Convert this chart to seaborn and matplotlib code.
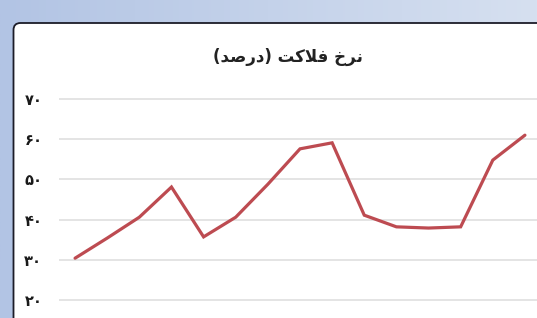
import numpy as np
import pandas as pd
import matplotlib
matplotlib.use("Agg")
import matplotlib.pyplot as plt
from matplotlib.colors import LinearSegmentedColormap
from matplotlib.patches import FancyBboxPatch
import seaborn as sns

# ---- data ----
title = "نرخ فلاکت (درصد)"
points = list(range(15))
misery_rate = [30.4, 35.4, 40.6, 48.1, 35.7, 40.6, 48.8, 57.6, 59.1, 41.1,
               38.2, 37.9, 38.2, 54.8, 61.0]
ytick_values = [20, 30, 40, 50, 60, 70]
ytick_labels = ["۲۰", "۳۰", "۴۰", "۵۰", "۶۰", "۷۰"]

# ---- minimal Arabic-script shaping (matplotlib has no shaping / RTL) ----
FORMS = {  # isolated, final, initial, medial
    'ن': ('\uFEE5', '\uFEE6', '\uFEE7', '\uFEE8'),
    'ر': ('\uFEAD', '\uFEAE', None, None),
    'خ': ('\uFEA5', '\uFEA6', '\uFEA7', '\uFEA8'),
    'ف': ('\uFED1', '\uFED2', '\uFED3', '\uFED4'),
    'ل': ('\uFEDD', '\uFEDE', '\uFEDF', '\uFEE0'),
    'ا': ('\uFE8D', '\uFE8E', None, None),
    'ک': ('\uFB8E', '\uFB8F', '\uFB90', '\uFB91'),
    'ت': ('\uFE95', '\uFE96', '\uFE97', '\uFE98'),
    'د': ('\uFEA9', '\uFEAA', None, None),
    'ص': ('\uFEB9', '\uFEBA', '\uFEBB', '\uFEBC'),
    'لا': ('\uFEFB', '\uFEFC', None, None),
}


def shape(text):
    toks = []
    i = 0
    while i < len(text):
        if text[i] == 'ل' and i + 1 < len(text) and text[i + 1] == 'ا':
            toks.append('لا')
            i += 2
        else:
            toks.append(text[i])
            i += 1

    def joins_left(t):
        return t is not None and t in FORMS and FORMS[t][2] is not None

    def is_ar(t):
        return t is not None and t in FORMS

    out = []
    for k, t in enumerate(toks):
        if t not in FORMS:
            out.append(t)
            continue
        f = FORMS[t]
        prev = toks[k - 1] if k > 0 else None
        nxt = toks[k + 1] if k + 1 < len(toks) else None
        r = joins_left(prev)
        l = f[2] is not None and is_ar(nxt)
        if r and l:
            out.append(f[3])
        elif l:
            out.append(f[2])
        elif r:
            out.append(f[1])
        else:
            out.append(f[0])
    mirror = {'(': ')', ')': '('}
    return ''.join(mirror.get(c, c) for c in reversed(out))


# ---- figure ----
sns.set_style("white")
plt.rcParams['font.family'] = ['DejaVu Sans']

W, H = 537, 318
fig = plt.figure(figsize=(W / 100, H / 100), dpi=100)

bg = fig.add_axes([0, 0, 1, 1], zorder=0)
cmap = LinearSegmentedColormap.from_list('bg', ['#b2c4e4', '#d6e0f0'])
grad = np.linspace(0, 1, 256).reshape(1, -1)
bg.imshow(grad, aspect='auto', cmap=cmap, extent=[0, W, H, 0])
bg.set_xlim(0, W)
bg.set_ylim(H, 0)
bg.axis('off')
panel = FancyBboxPatch((13.5, 23), 700, 500,
                       boxstyle="round,pad=0,rounding_size=7",
                       facecolor='white', edgecolor='#1c1c28', linewidth=1.3)
bg.add_patch(panel)

df = pd.DataFrame({"point": points, "rate": misery_rate})

px_per_unit = (300 - 99) / 50.0
ax = fig.add_axes([59 / W, 0, 482 / W, (H - 90) / H], zorder=2)
ax.set_facecolor('none')
sns.lineplot(data=df, x="point", y="rate", ax=ax, color='#bd4b51',
             linewidth=2.3, solid_joinstyle='miter')
ax.set_xlim(-0.5, 14.5)
ax.set_ylim(20 - 18 / px_per_unit, 70 + 9 / px_per_unit)
ax.set_yticks(ytick_values)
ax.set_yticklabels(ytick_labels, fontsize=10.5, fontweight='bold', color='#1a1a1a')
ax.set_xticks([])
ax.set_xlabel("")
ax.set_ylabel("")
ax.tick_params(axis='y', length=0, pad=12)
ax.grid(axis='y', color='#dcdcdc', linewidth=1.1)
ax.grid(axis='x', visible=False)
ax.set_axisbelow(True)
for s in ax.spines.values():
    s.set_visible(False)

fig.text(288 / W, 1 - 57 / H, shape(title), ha='center', va='center',
         fontsize=12, fontweight='bold', color='#222222')

fig.savefig("out.png", dpi=100)
